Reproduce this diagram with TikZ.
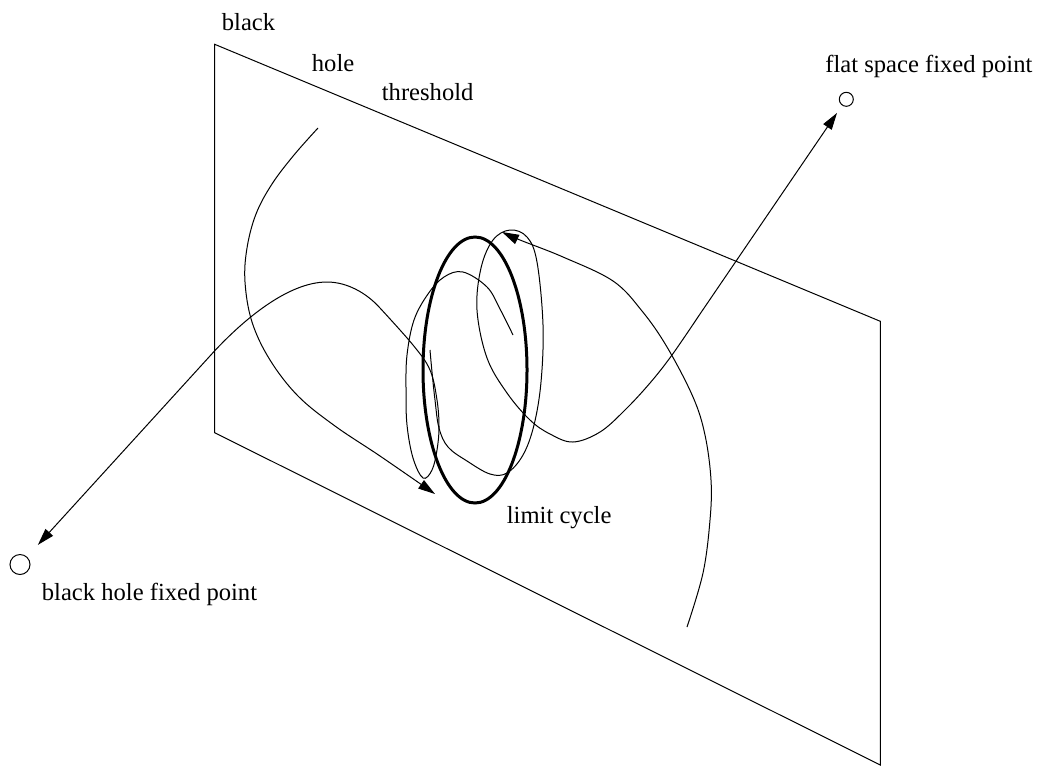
\documentclass[tikz,border=0pt]{standalone}
\usepackage{fontspec}
\setmainfont{Liberation Serif}
\usetikzlibrary{arrows.meta}
\begin{document}
\begin{tikzpicture}[x=0.5pt,y=-0.5pt,
  traj/.style={line width=0.5pt},
  tipped/.style={-{Triangle[length=8.5pt,width=5pt]}},
  lbl/.style={inner sep=0pt,anchor=base west,font=\fontsize{12.3}{14}\selectfont},
  fixpt/.style={circle,draw,line width=0.5pt,inner sep=0pt},
  plane/.style={line width=0.5pt,line join=miter},
  cycle/.style={line width=1.5pt}]
\useasboundingbox (0,0) rectangle (1042,766);
% threshold plane
\coordinate (p1) at (214.7,44.3);
\coordinate (p2) at (214.7,432.7);
\coordinate (p3) at (880.3,765);
\coordinate (p4) at (880.3,321.3);
\draw[plane] (p1) -- (p2) -- (p3) -- (p4) -- cycle;
% fixed points
\node[fixpt,minimum size=10pt] (bh) at (20,564.5) {};
\node[fixpt,minimum size=7pt] (fs) at (846.3,99.3) {};
% labels
\node[lbl] (lblack) at (221.5,30) {black};
\node[lbl] (lhole) at (311.5,71.5) {hole};
\node[lbl] (lthr) at (381.5,100) {threshold};
\node[lbl] (lfs) at (825,72) {flat space fixed point};
\node[lbl] (lbh) at (41.5,600) {black hole fixed point};
\node[lbl] (llc) at (506.5,523) {limit cycle};
% limit cycle
\draw[cycle] (475,370) ellipse [x radius=52, y radius=133];
% trajectory in the plane from upper left
\draw[traj,tipped] plot[smooth,tension=0.6] coordinates {(318,128) (294,155) (272,184) (256,214) (247,248) (245,282) (252,322) (270,360) (298,396) (335,426) (380,456) (435,494)};
% trajectory in the plane from lower right
\draw[traj,tipped] plot[smooth,tension=0.6] coordinates {(687,627) (703,573) (710,520) (711,480) (705,435) (693,397) (667,347) (642,311) (613,281) (563,257) (520,240) (502,232)};
% unstable branch to the black hole
\draw[traj,tipped,shorten >=8pt] plot[smooth,tension=0.6] coordinates {(513,335) (500,309) (487,287) (463,272) (444,277) (428,294) (414,320) (407,355) (406,390) (407,425) (413,458) (423,478) (432,470) (437,450) (439,427) (437,400) (430,370) (413,345) (380,308)}
  .. controls (366.6,293) and (347,282) .. (327,282)
  .. controls (287,282) and (241.8,321.8) .. (214.5,351) -- (bh);
% unstable branch to flat space
\draw[traj,tipped,shorten >=4.5pt] plot[smooth,tension=0.6] coordinates {(430,350) (432,372) (435,400) (439,428) (448,447) (467,461) (490,474) (507,473) (523,455) (534,425) (541,382) (543,325) (537,262) (527,237) (510,230) (493,240) (481,268) (477,310) (487,358) (507,393) (530,420) (550,434) (573,442) (600,432) (625,410) (650,383) (672,355) (700,314)} -- (fs);
\end{tikzpicture}
\end{document}
